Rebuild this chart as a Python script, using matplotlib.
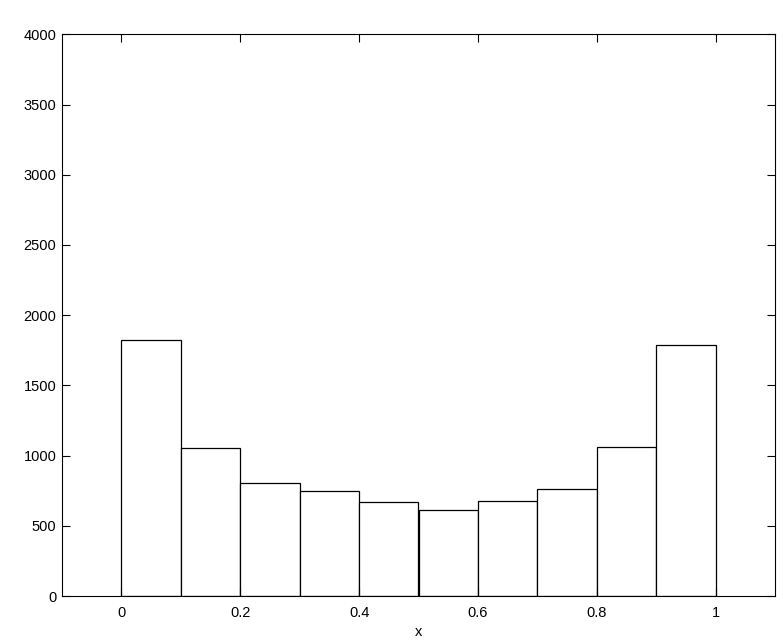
import numpy as np
import matplotlib
matplotlib.use("Agg")
import matplotlib.pyplot as plt

# histogram bins (edges 0..1, width 0.1) and counts
bin_left = [0.0, 0.1, 0.2, 0.3, 0.4, 0.5, 0.6, 0.7, 0.8, 0.9]
bin_width = 0.1
counts = [1821, 1054, 802, 745, 667, 610, 674, 760, 1059, 1785]

x_ticks = [0, 0.2, 0.4, 0.6, 0.8, 1]
x_tick_labels = ["0", "0.2", "0.4", "0.6", "0.8", "1"]
y_ticks = [0, 500, 1000, 1500, 2000, 2500, 3000, 3500, 4000]

plt.rcParams["font.family"] = ["Liberation Sans", "DejaVu Sans"]

fig = plt.figure(figsize=(7.83, 6.4), dpi=100)
ax = fig.add_axes([62 / 783, 44 / 640, 713 / 783, 561.7 / 640])

ax.bar(
    bin_left,
    counts,
    width=bin_width,
    align="edge",
    color="white",
    edgecolor="black",
    linewidth=0.9
)

ax.set_xlim(-0.1, 1.1)
ax.set_ylim(0, 4000)

ax.set_xticks(x_ticks)
ax.set_xticklabels(x_tick_labels)
ax.set_yticks(y_ticks)

ax.tick_params(
    direction="in",
    length=6,
    width=0.8,
    top=True,
    right=True,
    labelsize=10.5
)
ax.tick_params(axis="x", pad=7)
ax.tick_params(axis="y", pad=4)

for spine in ax.spines.values():
    spine.set_linewidth(0.8)

ax.set_xlabel("x", fontsize=10.5, labelpad=4)

fig.savefig("out.png", dpi=100)
